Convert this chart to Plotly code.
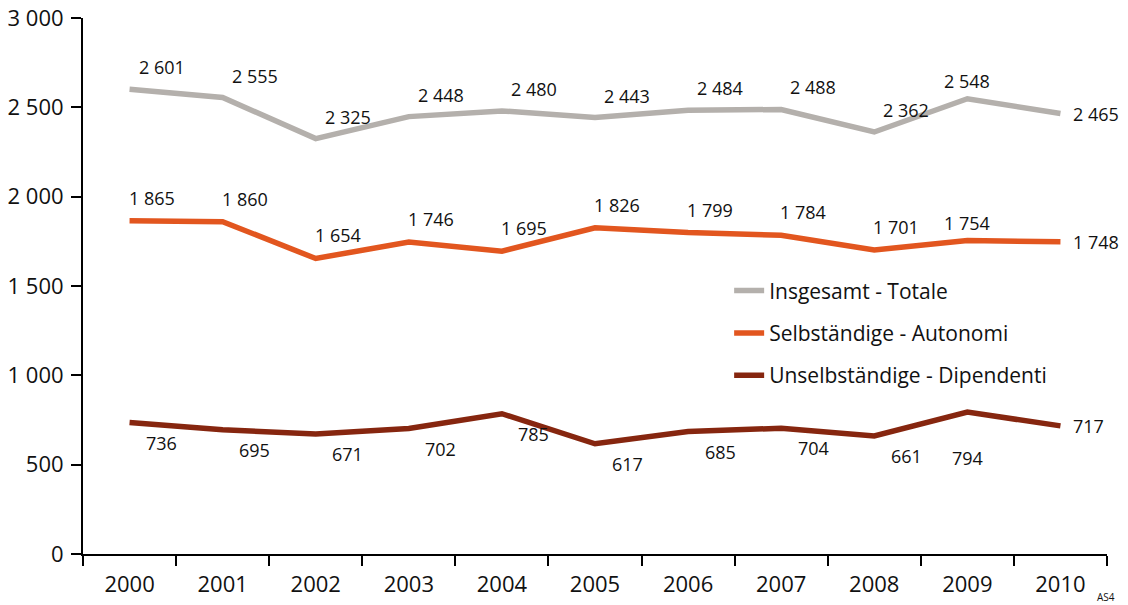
import plotly.graph_objects as go

years = ["2000", "2001", "2002", "2003", "2004", "2005", "2006", "2007", "2008", "2009", "2010"]
insgesamt = [2601, 2555, 2325, 2448, 2480, 2443, 2484, 2488, 2362, 2548, 2465]
selbstaendige = [1865, 1860, 1654, 1746, 1695, 1826, 1799, 1784, 1701, 1754, 1748]
unselbstaendige = [736, 695, 671, 702, 785, 617, 685, 704, 661, 794, 717]

series_names = ["Insgesamt - Totale", "Selbständige - Autonomi", "Unselbständige - Dipendenti"]
colors = ["#B4B0AC", "#E2561F", "#86260F"]
y_ticks = [0, 500, 1000, 1500, 2000, 2500, 3000]

FONT = "Open Sans"


def fmt(v):
    return f"{v:,}".replace(",", " ")


fig = go.Figure()
series = [insgesamt, selbstaendige, unselbstaendige]
# label offsets per series (above for first two, below for the third)
offsets = [(32, 22), (22, 23), (32, -20)]

annotations = []
for k, (name, vals, col) in enumerate(zip(series_names, series, colors)):
    fig.add_trace(go.Scatter(
        x=years, y=vals, mode="lines", name=name,
        line=dict(color=col, width=5.5),
        legendgroup=f"g{k}",
    ))
    dx, dy = offsets[k]
    n = len(vals)
    for i, v in enumerate(vals):
        lab_font = dict(family=FONT, size=18, color="#111")
        if i == n - 1:
            annotations.append(dict(x=i, y=v, text=fmt(v), showarrow=False,
                                    xanchor="left", yanchor="middle", xshift=11, yshift=0,
                                    font=lab_font))
        elif i == n - 2:
            annotations.append(dict(x=i, y=v, text=fmt(v), showarrow=False,
                                    xanchor="center", yanchor="middle", xshift=0,
                                    yshift=(18 if dy > 0 else -46), font=lab_font))
        else:
            annotations.append(dict(x=i, y=v, text=fmt(v), showarrow=False,
                                    xanchor="center", yanchor="middle", xshift=dx, yshift=dy,
                                    font=lab_font))

annotations.append(dict(x=1.0, y=0.0, xref="paper", yref="paper", text="AS4",
                        showarrow=False, xanchor="center", yanchor="middle", xshift=-1, yshift=-43,
                        font=dict(family=FONT, size=10, color="#111")))

fig.update_layout(
    width=1128, height=605,
    margin=dict(l=75, r=29, t=10, b=59, autoexpand=False),
    paper_bgcolor="white", plot_bgcolor="white",
    font=dict(family=FONT, size=22, color="#111"),
    showlegend=True,
    legend=dict(x=0.631, y=0.529, xanchor="left", yanchor="top",
                font=dict(family=FONT, size=21, color="#111"),
                tracegroupgap=12, bgcolor="rgba(0,0,0,0)",
                itemwidth=30),
    annotations=annotations,
    shapes=[dict(type="line", xref="paper", yref="paper", x0=1.0143, x1=1.0143, y0=-0.1, y1=1.05,
                 layer="above", line=dict(color="black", width=2.5))],
)

fig.update_xaxes(
    type="category", range=[-0.5, 10.5], automargin=False,
    showline=True, linecolor="black", linewidth=2,
    ticks="outside", tickson="boundaries", ticklen=10, tickwidth=2, tickcolor="black",
    showgrid=False, zeroline=False,
    tickfont=dict(family=FONT, size=22, color="#111"),
    ticklabelstandoff=10,
)
fig.update_yaxes(
    range=[0, 3000], automargin=False,
    tickvals=y_ticks, ticktext=[fmt(v) for v in y_ticks],
    showline=True, linecolor="black", linewidth=2,
    ticks="outside", ticklen=10, tickwidth=2, tickcolor="black",
    showgrid=False, zeroline=False,
    tickfont=dict(family=FONT, size=22, color="#111"),
    ticklabelstandoff=3, ticklabeloverflow="allow",
)

fig.write_html("out.html")
